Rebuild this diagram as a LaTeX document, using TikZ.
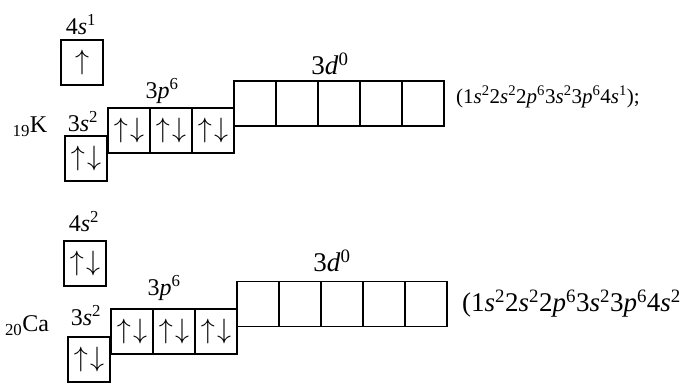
\documentclass[tikz,border=0pt]{standalone}
\usepackage{graphicx}
\usepackage{fontspec}
\setmainfont{Liberation Serif}
\usetikzlibrary{positioning}
\newcommand{\orbl}[3]{#1\textit{#2}\textsuperscript{#3}}
\newcommand{\pairud}{\scalebox{1.35}{$\uparrow\mkern1.5mu\downarrow$}}
\newcommand{\single}{\scalebox{1.35}{$\uparrow$}}

\begin{document}
\begin{tikzpicture}[x=1pt, y=-1pt,
    cell/.style={rectangle, draw, line width=1.1pt, minimum width=42pt, minimum height=45pt, inner sep=0pt, outer sep=0pt, font=\fontsize{20}{20}\selectfont},
    lbl/.style={font=\fontsize{24}{28}\selectfont, inner sep=0pt},
    cfg/.style={font=\fontsize{21}{25}\selectfont, inner sep=0pt, anchor=west}
]
\useasboundingbox (0,0) rectangle (688,385);

% potassium
\node[cell] (k4s) at (82,62.5) {\single};
\node[cell] (k3s) at (86,158.5) {\pairud};
\node[cell, anchor=west] (k3pa) at (108,130.5) {\pairud};
\node[cell, right=0pt of k3pa] (k3pb) {\pairud};
\node[cell, right=0pt of k3pb] (k3pc) {\pairud};
\node[cell, anchor=west] (k3da) at (234,103.5) {};
\node[cell, right=0pt of k3da] (k3db) {};
\node[cell, right=0pt of k3db] (k3dc) {};
\node[cell, right=0pt of k3dc] (k3dd) {};
\node[cell, right=0pt of k3dd] (k3de) {};

\node[lbl] (k4sl) at (81,25) {\orbl{4}{s}{1}};
\node[lbl] (k3sl) at (83,122) {\orbl{3}{s}{2}};
\node[lbl] (k3pl) at (162,91) {\orbl{3}{p}{6}};
\node[lbl, font=\fontsize{27}{30}\selectfont] (k3dl) at (330,64) {\orbl{3}{d}{0}};
\node[lbl] (kel) at (30,127) {\textsubscript{19}K};
\node[cfg] (kcfg) at (456,97) {(\orbl{1}{s}{2}\orbl{2}{s}{2}\orbl{2}{p}{6}\orbl{3}{s}{2}\orbl{3}{p}{6}\orbl{4}{s}{1});};

% calcium
\node[cell] (c4s) at (85,263.5) {\pairud};
\node[cell] (c3s) at (89,359.5) {\pairud};
\node[cell, anchor=west] (c3pa) at (111,331.5) {\pairud};
\node[cell, right=0pt of c3pa] (c3pb) {\pairud};
\node[cell, right=0pt of c3pb] (c3pc) {\pairud};
\node[cell, anchor=west] (c3da) at (237,304) {};
\node[cell, right=0pt of c3da] (c3db) {};
\node[cell, right=0pt of c3db] (c3dc) {};
\node[cell, right=0pt of c3dc] (c3dd) {};
\node[cell, right=0pt of c3dd] (c3de) {};

\node[lbl] (c4sl) at (84,222) {\orbl{4}{s}{2}};
\node[lbl] (c3sl) at (86,316) {\orbl{3}{s}{2}};
\node[lbl] (c3pl) at (164,288) {\orbl{3}{p}{6}};
\node[lbl, font=\fontsize{27}{30}\selectfont] (c3dl) at (332,261) {\orbl{3}{d}{0}};
\node[lbl] (cel) at (27,326) {\textsubscript{20}Ca};
\node[cfg, font=\fontsize{27}{30}\selectfont] (ccfg) at (462,304) {(\orbl{1}{s}{2}\orbl{2}{s}{2}\orbl{2}{p}{6}\orbl{3}{s}{2}\orbl{3}{p}{6}\orbl{4}{s}{2}};
\end{tikzpicture}
\end{document}
